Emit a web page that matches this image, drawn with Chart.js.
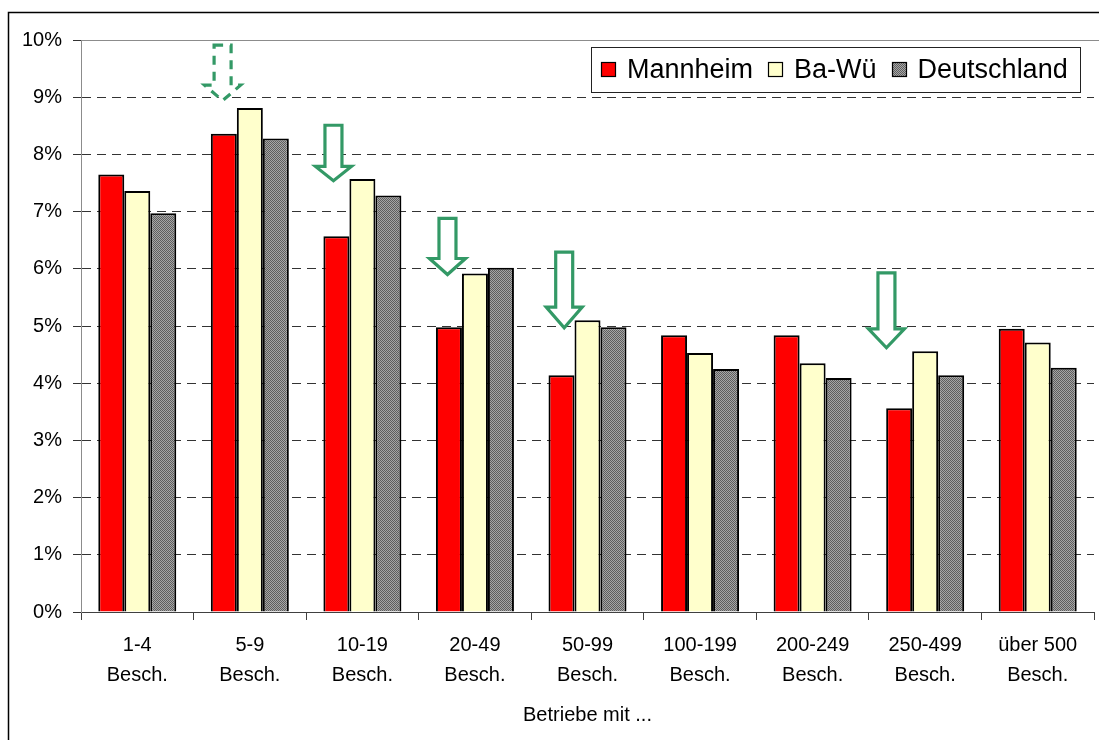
<!DOCTYPE html>
<html><head><meta charset="utf-8">
<script src="https://cdn.jsdelivr.net/npm/chart.js@4.4.1/dist/chart.umd.min.js"></script>
<style>html,body{margin:0;padding:0;background:#fff;overflow:hidden}canvas{display:block}</style>
</head><body>
<canvas id="c" width="1099" height="740"></canvas>
<script>
// ---- data ----
const categories = [
  ['1-4','Besch.'], ['5-9','Besch.'], ['10-19','Besch.'], ['20-49','Besch.'],
  ['50-99','Besch.'], ['100-199','Besch.'], ['200-249','Besch.'], ['250-499','Besch.'],
  ['über 500','Besch.']
];
const seriesNames = ['Mannheim', 'Ba-Wü', 'Deutschland'];
const mannheim    = [7.65, 8.36, 6.57, 4.98, 4.14, 4.84, 4.84, 3.56, 4.95];
const baWue       = [7.36, 8.81, 7.57, 5.92, 5.10, 4.53, 4.35, 4.56, 4.71];
const deutschland = [6.97, 8.28, 7.28, 6.02, 4.98, 4.25, 4.09, 4.14, 4.27];
const yTickLabels = ['0%','1%','2%','3%','4%','5%','6%','7%','8%','9%','10%'];
const xTitle = 'Betriebe mit ...';

// ---- styling ----
const FONT = 'Arial, "Liberation Sans", sans-serif';
Chart.defaults.font.family = FONT;
Chart.defaults.color = '#000';

const canvas = document.getElementById('c');
const mainCtx = canvas.getContext('2d');
function grayPattern() {
  const c = document.createElement('canvas');
  c.width = 2; c.height = 2;
  const g = c.getContext('2d');
  g.fillStyle = '#a6a6a6'; g.fillRect(0, 0, 2, 2);
  g.fillStyle = '#5e5e5e'; g.fillRect(0, 0, 1, 1); g.fillRect(1, 1, 1, 1);
  return mainCtx.createPattern(c, 'repeat');
}
const colors = ['#ff0000', '#ffffcc', grayPattern()];

const frame = {
  id: 'frame',
  afterDraw(chart) {
    const ctx = chart.ctx, ca = chart.chartArea;
    ctx.save();
    ctx.strokeStyle = '#000'; ctx.lineWidth = 1.5;
    ctx.beginPath();
    ctx.moveTo(8.5, 740); ctx.lineTo(8.5, 12.5); ctx.lineTo(1099, 12.5);
    ctx.stroke();
    ctx.strokeStyle = '#8c8c8c'; ctx.lineWidth = 1;
    ctx.beginPath();
    ctx.moveTo(ca.left, Math.round(ca.top) + 0.5); ctx.lineTo(1099, Math.round(ca.top) + 0.5);
    ctx.stroke();
    ctx.restore();
  }
};

const arrowsPlugin = {
  id: 'arrows',
  afterDatasetsDraw(chart, args, opts) {
    const xs = chart.scales.x, ys = chart.scales.y, ctx = chart.ctx;
    const catW = xs.getPixelForValue(1) - xs.getPixelForValue(0);
    opts.items.forEach(a => {
      const cx = xs.getPixelForValue(a.category) + a.shift * catW;
      const yt = ys.getPixelForValue(a.top), yb = ys.getPixelForValue(a.headBase), yp = ys.getPixelForValue(a.tip);
      const sw = 8.5, hw = 18;
      ctx.save();
      ctx.beginPath();
      ctx.moveTo(cx - sw, yt); ctx.lineTo(cx + sw, yt); ctx.lineTo(cx + sw, yb);
      ctx.lineTo(cx + hw, yb); ctx.lineTo(cx, yp); ctx.lineTo(cx - hw, yb);
      ctx.lineTo(cx - sw, yb); ctx.closePath();
      ctx.fillStyle = '#fff'; ctx.fill();
      ctx.lineWidth = 3.2; ctx.strokeStyle = '#339966'; ctx.lineJoin = 'miter';
      ctx.setLineDash(a.dashed ? [9, 7] : []);
      ctx.stroke();
      ctx.restore();
    });
  }
};

const legendBox = {
  id: 'legendBox',
  afterDraw(chart) {
    const ctx = chart.ctx, ca = chart.chartArea;
    ctx.save();
    ctx.font = '27px ' + FONT;
    const items = chart.data.datasets.map(d => ({ label: d.label, fill: d.backgroundColor }));
    const padL = 10, sq = 15, gap = 11, itemGap = 15, padR = 12;
    let w = padL + padR;
    items.forEach((it, i) => {
      it.tw = ctx.measureText(it.label).width;
      w += sq + gap + it.tw + (i < items.length - 1 ? itemGap : 0);
    });
    const right = ca.right - 14, top = ca.top + 7, h = 45;
    const left = Math.round(right - w);
    ctx.fillStyle = '#fff'; ctx.fillRect(left, top, w, h);
    ctx.strokeStyle = '#222'; ctx.lineWidth = 1;
    ctx.strokeRect(left + 0.5, Math.round(top) + 0.5, Math.round(w), h);
    let x = left + padL; const cy = top + h / 2;
    items.forEach(it => {
      ctx.fillStyle = it.fill; ctx.fillRect(Math.round(x), Math.round(cy - 7.5), sq, sq);
      ctx.strokeStyle = '#000'; ctx.lineWidth = 1.2;
      ctx.strokeRect(Math.round(x) + 0.5, Math.round(cy - 7.5) + 0.5, sq - 1, sq - 1);
      ctx.fillStyle = '#000'; ctx.textBaseline = 'middle'; ctx.textAlign = 'left';
      ctx.fillText(it.label, x + sq + gap, cy + 1);
      x += sq + gap + it.tw + itemGap;
    });
    ctx.restore();
  }
};

const seriesData = [mannheim, baWue, deutschland];
new Chart(canvas, {
  type: 'bar',
  data: {
    labels: categories,
    datasets: seriesNames.map((n, i) => ({
      label: n,
      data: seriesData[i],
      backgroundColor: colors[i],
      borderColor: '#000',
      borderWidth: 2,
      categoryPercentage: 0.693,
      barPercentage: 1.0
    }))
  },
  options: {
    responsive: false,
    animation: false,
    layout: { padding: { top: 40, left: 0, right: 5, bottom: 0 } },
    plugins: {
      legend: { display: false },
      tooltip: { enabled: false },
      arrows: {
        items: [
          { category: 1, shift: -0.242, top: 9.91, headBase: 9.21, tip: 8.94, dashed: true },
          { category: 2, shift: -0.257, top: 8.51, headBase: 7.79, tip: 7.54 },
          { category: 3, shift: -0.244, top: 6.88, headBase: 6.18, tip: 5.90 },
          { category: 4, shift: -0.207, top: 6.29, headBase: 5.33, tip: 4.97 },
          { category: 7, shift: -0.344, top: 5.93, headBase: 4.95, tip: 4.62 }
        ]
      }
    },
    scales: {
      x: {
        afterFit(s) { s.height = 128; },
        grid: { display: true, drawOnChartArea: false, offset: true, tickLength: 8, color: '#404040', tickColor: '#404040' },
        border: { display: true, color: '#404040', width: 1 },
        ticks: { font: { size: 20, lineHeight: 1.5 }, padding: 10, maxRotation: 0, autoSkip: false, color: '#000' },
        title: { display: true, text: xTitle, font: { size: 20, lineHeight: 1.2 }, padding: { top: 13, bottom: 13 }, color: '#000' }
      },
      y: {
        min: 0, max: 10,
        afterFit(s) { s.width = 81; },
        grid: {
          color: c => (c.tick && (c.tick.value === 0 || c.tick.value === 10)) ? 'rgba(0,0,0,0)' : '#333',
          tickColor: '#333', tickLength: 8, tickBorderDash: [], lineWidth: 1
        },
        border: { display: true, color: '#8c8c8c', dash: [9, 6] },
        ticks: {
          stepSize: 1, padding: 11, font: { size: 20 }, color: '#000',
          callback: (v, i) => yTickLabels[Math.round(v)]
        }
      }
    }
  },
  plugins: [frame, arrowsPlugin, legendBox]
});
</script>
</body></html>
